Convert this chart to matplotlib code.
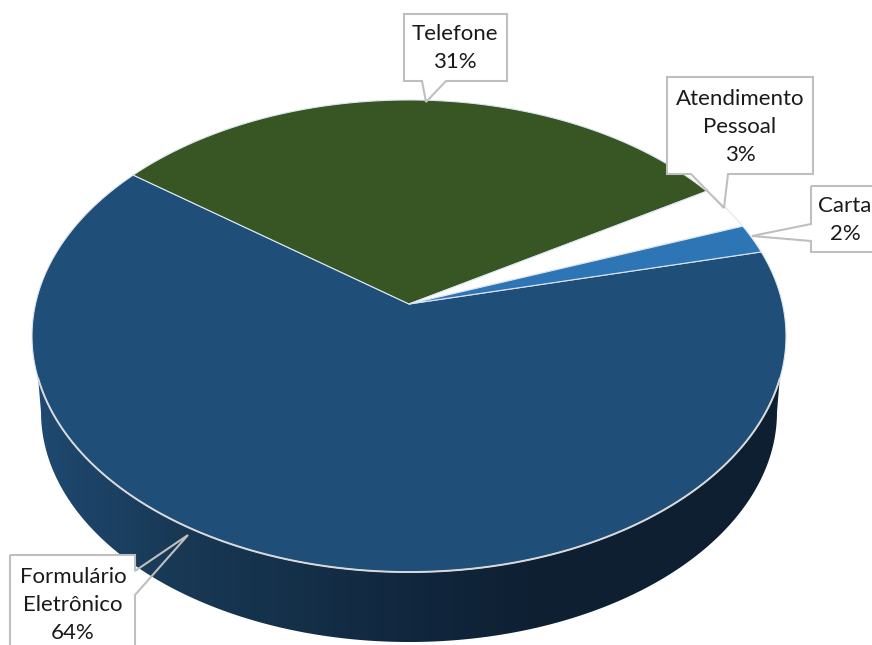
import numpy as np
import matplotlib
matplotlib.use("Agg")
import matplotlib.pyplot as plt
from matplotlib.colors import LinearSegmentedColormap
from matplotlib.patches import Polygon, Rectangle

# chart data
labels = ["Formulário\nEletrônico", "Telefone", "Atendimento\nPessoal", "Carta"]
values = [64, 31, 3, 2]
colors = ["#1F4E79", "#375623", "#FFFFFF", "#2E75B6"]

# pie geometry in image pixels
apex_x, apex_y = 409, 304
scale_x, scale_y = 373.5, 231.7
persp = 0.1356
start_angle = 76.6


def project(theta_deg):
    # clockwise angle from the top of the pie, seen with a bit of perspective
    t = np.radians(theta_deg)
    u, v = np.sin(t), np.cos(t)
    w = 1 + persp * v
    return apex_x + scale_x * u / w, apex_y - scale_y * v / w


plt.rcParams["font.family"] = ["Lato", "DejaVu Sans"]
fig = plt.figure(figsize=(8.72, 6.45), dpi=100)
ax = fig.add_axes([0, 0, 1, 1])

# side of the pie, lower rim of the top face down to a smaller bottom ellipse
rim_angles = np.linspace(start_angle, start_angle + 230.4, 500)
rim_x, rim_y = project(rim_angles)
keep = rim_y >= 378
rim_x, rim_y = rim_x[keep], rim_y[keep]
b = np.radians(np.linspace(180, 0, 300))
bottom_x = 409 + 368 * np.cos(b)
bottom_y = 412 + 230 * np.sin(b)
side_outline = np.column_stack([np.r_[bottom_x, rim_x], np.r_[bottom_y, rim_y]])
side = Polygon(side_outline, closed=True, facecolor="none", edgecolor="none")
ax.add_patch(side)
side_cmap = LinearSegmentedColormap.from_list(
    "side",
    [(0.0, "#1F4A72"), (0.2, "#183854"), (0.5, "#11273E"), (0.68, "#0E1F31"), (1.0, "#0E1F31")],
)
grad = ax.imshow(np.linspace(0, 1, 400).reshape(1, -1), cmap=side_cmap, vmin=0, vmax=1,
                 extent=(30, 790, 645, 370), aspect="auto", zorder=1)
grad.set_clip_path(side)

# top face slices
angle = start_angle
for value, color in zip(values, colors):
    sweep = value / sum(values) * 360
    a = np.linspace(angle, angle + sweep, max(int(sweep * 3), 8))
    x, y = project(a)
    pts = np.column_stack([np.r_[apex_x, x], np.r_[apex_y, y]])
    ax.add_patch(Polygon(pts, closed=True, facecolor=color, edgecolor="#DCE6F1", linewidth=0.8, zorder=2))
    angle += sweep

# light rim along the front of the top face
ax.plot(rim_x, rim_y, color="#D9D9D9", linewidth=1.4, zorder=3)

# callouts: white box, unfilled outline with pointer so the pie shows through it
boxes = [(10, 555, 135, 660), (404, 14, 507, 81), (667, 77, 813, 174), (811, 186, 890, 252)]
callouts = [
    [(10, 555), (135, 555), (135, 571), (188, 535), (135, 595), (135, 660), (10, 660)],
    [(404, 14), (507, 14), (507, 81), (446, 81), (426, 102), (422, 81), (404, 81)],
    [(667, 77), (813, 77), (813, 174), (728, 174), (724, 208), (691, 174), (667, 174)],
    [(811, 186), (890, 186), (890, 252), (811, 252), (811, 241), (752, 236), (811, 224)],
]
text_pos = [(73, 605), (455, 48), (740, 127), (845, 220)]

for name, value, box, outline, pos in zip(labels, values, boxes, callouts, text_pos):
    ax.add_patch(Rectangle((box[0], box[1]), box[2] - box[0], box[3] - box[1],
                           facecolor="white", edgecolor="none", zorder=4))
    ax.add_patch(Polygon(outline, closed=True, facecolor="none", edgecolor="#BFBFBF",
                         linewidth=1.5, zorder=5))
    ax.text(pos[0], pos[1], f"{name}\n{value}%", ha="center", va="center", fontsize=16,
            color="#1A1A1A", linespacing=1.49, zorder=6)

ax.set_xlim(0, 872)
ax.set_ylim(645, 0)
ax.axis("off")

fig.savefig("out.png", dpi=100)
